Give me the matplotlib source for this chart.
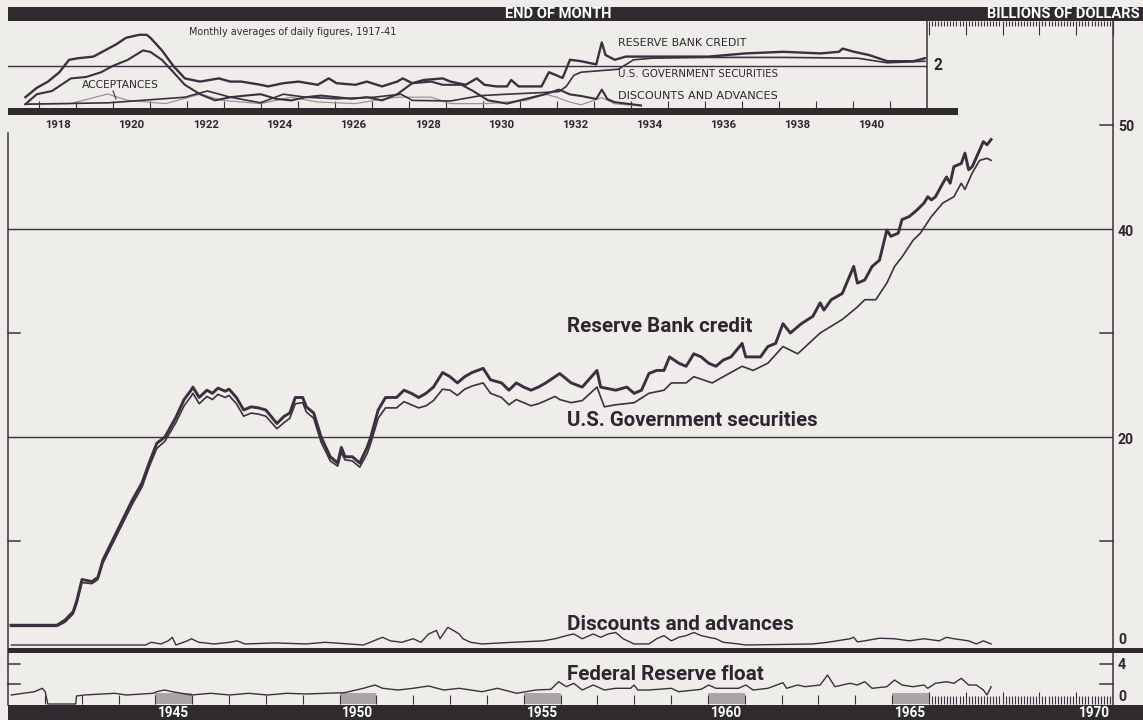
import matplotlib
matplotlib.use("Agg")
import matplotlib.pyplot as plt
from matplotlib import font_manager
from matplotlib.lines import Line2D
from matplotlib.patches import Rectangle
from matplotlib.transforms import blended_transform_factory

# ---- data (billions of dollars) ----
# main chart, end of month 1941-67
rbc_years = [1941.08, 1942.33, 1942.55, 1942.77, 1942.87, 1943.01, 1943.28, 1943.44, 1943.58,
             1944.37, 1944.64, 1944.83, 1945.04, 1945.26, 1945.56, 1945.78, 1945.97, 1946.02,
             1946.19, 1946.4, 1946.55, 1946.7, 1946.9, 1947.0, 1947.2, 1947.4, 1947.6, 1947.8,
             1948.0, 1948.3, 1948.5, 1948.65, 1948.8, 1949.0, 1949.1, 1949.3, 1949.5, 1949.75,
             1949.95, 1950.05, 1950.15, 1950.35, 1950.55, 1950.75, 1950.85, 1951.05, 1951.25,
             1951.55, 1951.75, 1951.95, 1952.15, 1952.35, 1952.55, 1952.8, 1953.0, 1953.2, 1953.4,
             1953.6, 1953.9, 1954.1, 1954.4, 1954.6, 1954.8, 1955.0, 1955.2, 1955.4, 1955.6, 1955.85,
             1955.98, 1956.29, 1956.59, 1956.99, 1957.09, 1957.5, 1957.8, 1958.0, 1958.2, 1958.4,
             1958.61, 1958.81, 1958.96, 1959.21, 1959.41, 1959.62, 1959.82, 1960.02, 1960.22,
             1960.42, 1960.63, 1960.93, 1961.03, 1961.43, 1961.63, 1961.84, 1962.04, 1962.24,
             1962.54, 1962.85, 1963.05, 1963.15, 1963.35, 1963.65, 1963.96, 1964.06, 1964.26,
             1964.46, 1964.66, 1964.86, 1964.97, 1965.17, 1965.27, 1965.47, 1965.67, 1965.87,
             1965.97, 1966.07, 1966.18, 1966.38, 1966.48, 1966.58, 1966.68, 1966.88, 1966.98,
             1967.08, 1967.18, 1967.38, 1967.48, 1967.58, 1967.69]
rbc_vals = [1.9, 1.9, 2.4, 3.2, 4.3, 6.3, 6.1, 6.5, 8.2,
            13.9, 15.6, 17.5, 19.4, 20.0, 21.9, 23.6, 24.5, 24.8,
            23.8, 24.5, 24.2, 24.7, 24.4, 24.6, 23.8, 22.6, 22.9, 22.8,
            22.6, 21.3, 22.0, 22.3, 23.8, 23.8, 22.9, 22.3, 20.0, 18.1,
            17.5, 19.0, 18.1, 18.1, 17.5, 19.0, 20.0, 22.6, 23.8,
            23.8, 24.5, 24.2, 23.8, 24.2, 24.8, 26.2, 25.8, 25.2, 25.8,
            26.2, 26.6, 25.5, 25.2, 24.5, 25.2, 24.8, 24.5, 24.8, 25.2, 25.8,
            26.1, 25.2, 24.8, 26.4, 24.8, 24.5, 24.8, 24.2, 24.5, 26.1,
            26.4, 26.4, 27.7, 27.1, 26.8, 28.0, 27.7, 27.1, 26.8,
            27.4, 27.7, 29.0, 27.7, 27.7, 28.7, 29.0, 30.9, 30.0,
            30.9, 31.6, 32.9, 32.2, 33.2, 33.8, 36.4, 34.8, 35.1,
            36.4, 37.0, 39.9, 39.3, 39.6, 40.9, 41.2, 41.8, 42.5,
            43.1, 42.8, 43.1, 44.4, 45.0, 44.4, 46.0, 46.3, 47.3,
            45.7, 46.0, 47.6, 48.4, 48.1, 48.6]

gov_years = [1941.08, 1942.33, 1942.55, 1942.77, 1942.87, 1943.01, 1943.28, 1943.44, 1943.58,
             1944.37, 1944.64, 1944.83, 1945.04, 1945.26, 1945.56, 1945.78, 1945.97, 1946.02,
             1946.19, 1946.4, 1946.55, 1946.7, 1946.9, 1947.0, 1947.2, 1947.4, 1947.6, 1947.8,
             1948.0, 1948.3, 1948.5, 1948.65, 1948.8, 1949.0, 1949.1, 1949.3, 1949.5, 1949.75,
             1949.95, 1950.05, 1950.15, 1950.35, 1950.55, 1950.75, 1950.85, 1951.05, 1951.25,
             1951.55, 1951.75, 1951.95, 1952.15, 1952.35, 1952.55, 1952.8, 1953.0, 1953.2, 1953.4,
             1953.6, 1953.9, 1954.1, 1954.4, 1954.6, 1954.8, 1955.0, 1955.2, 1955.4, 1955.6, 1955.85,
             1955.98, 1956.29, 1956.59, 1956.99, 1957.19, 1957.5, 1958.0, 1958.4, 1958.81, 1959.01,
             1959.41, 1959.62, 1960.12, 1960.42, 1960.93, 1961.23, 1961.63, 1962.04, 1962.44,
             1963.05, 1963.65, 1964.06, 1964.26, 1964.56, 1964.86, 1965.07, 1965.27, 1965.57,
             1965.77, 1966.07, 1966.38, 1966.68, 1966.88, 1966.98, 1967.18, 1967.38, 1967.58, 1967.69]
gov_vals = [1.8, 1.8, 2.2, 3.0, 4.0, 6.0, 5.9, 6.3, 7.9,
            13.5, 15.2, 17.1, 18.9, 19.6, 21.4, 23.0, 23.9, 24.2,
            23.2, 23.9, 23.6, 24.1, 23.8, 24.0, 23.2, 22.0, 22.3, 22.2,
            22.0, 20.8, 21.4, 21.8, 23.2, 23.3, 22.4, 21.8, 19.5, 17.7,
            17.2, 18.5, 17.8, 17.7, 17.1, 18.4, 19.4, 21.8, 22.8,
            22.8, 23.4, 23.1, 22.8, 23.0, 23.5, 24.6, 24.5, 24.0, 24.6,
            24.9, 25.2, 24.2, 23.8, 23.1, 23.6, 23.3, 23.0, 23.2, 23.5, 23.9,
            23.6, 23.3, 23.5, 24.8, 22.9, 23.1, 23.3, 24.2, 24.5, 25.2,
            25.2, 25.8, 25.2, 25.8, 26.8, 26.4, 27.1, 28.7, 28.0,
            30.0, 31.3, 32.5, 33.2, 33.2, 34.8, 36.4, 37.3, 38.9,
            39.6, 41.2, 42.5, 43.1, 44.4, 43.8, 45.4, 46.6, 46.8, 46.6]

disc_years = [1941.09, 1944.31, 1944.52, 1944.73, 1944.89, 1945.15, 1945.35, 1945.46, 1945.56,
              1945.87, 1945.98, 1946.18, 1946.6, 1947.02, 1947.22, 1947.43, 1948.26, 1949.09,
              1949.61, 1950.65, 1951.07, 1951.17, 1951.38, 1951.69, 1952.0, 1952.21, 1952.42,
              1952.63, 1952.73, 1952.94, 1953.09, 1953.25, 1953.35, 1953.56, 1953.87, 1954.7,
              1955.53, 1955.85, 1956.16, 1956.36, 1956.59, 1956.89, 1957.09, 1957.29, 1957.5,
              1957.7, 1958.0, 1958.4, 1958.61, 1958.81, 1959.01, 1959.21, 1959.41, 1959.62,
              1959.82, 1960.02, 1960.22, 1960.42, 1960.83, 1961.03, 1962.85, 1963.25, 1963.86,
              1963.96, 1964.06, 1964.26, 1964.66, 1965.07, 1965.47, 1965.87, 1966.28, 1966.48,
              1966.68, 1967.08, 1967.29, 1967.48, 1967.69]
disc_vals = [0.0, 0.0, 0.0, 0.0, 0.26, 0.1, 0.4, 0.74, 0.0,
             0.4, 0.6, 0.26, 0.1, 0.26, 0.4, 0.1, 0.2, 0.1,
             0.26, 0.0, 0.6, 0.74, 0.4, 0.26, 0.6, 0.26, 1.06,
             1.4, 0.6, 1.7, 1.4, 1.06, 0.6, 0.26, 0.1, 0.26,
             0.4, 0.6, 0.9, 1.06, 0.6, 1.06, 0.74, 1.06, 1.2,
             0.6, 0.1, 0.1, 0.6, 0.9, 0.4, 0.74, 0.9, 1.2,
             0.9, 0.74, 0.6, 0.26, 0.1, 0.0, 0.1, 0.26, 0.6,
             0.74, 0.3, 0.4, 0.65, 0.6, 0.4, 0.6, 0.4, 0.74,
             0.6, 0.4, 0.1, 0.4, 0.1]

float_years = [1941.09, 1941.41, 1941.72, 1941.93, 1942.01, 1942.08, 1942.84, 1942.86, 1943.07,
               1943.9, 1944.21, 1944.94, 1945.04, 1945.25, 1945.46, 1945.98, 1946.5, 1947.02,
               1947.53, 1948.05, 1948.57, 1949.09, 1949.61, 1950.13, 1950.65, 1950.96, 1951.17,
               1951.59, 1952.0, 1952.42, 1952.83, 1953.25, 1953.87, 1954.29, 1954.81, 1955.33,
               1955.74, 1955.95, 1956.16, 1956.36, 1956.59, 1956.89, 1957.19, 1957.5, 1957.9,
               1958.0, 1958.1, 1958.4, 1959.01, 1959.21, 1959.82, 1960.02, 1960.22, 1960.83,
               1961.03, 1961.23, 1961.63, 1962.04, 1962.14, 1962.44, 1962.64, 1963.05, 1963.25,
               1963.45, 1963.86, 1964.06, 1964.26, 1964.46, 1964.86, 1965.07, 1965.27, 1965.57,
               1965.87, 1965.97, 1966.18, 1966.48, 1966.68, 1966.88, 1967.08, 1967.29, 1967.48,
               1967.58, 1967.69]
float_vals = [0.9, 1.07, 1.23, 1.57, 1.23, 0.0, 0.0, 0.8, 0.9,
              1.07, 0.9, 1.07, 1.23, 1.4, 1.23, 0.9, 1.07, 0.9,
              1.07, 0.9, 1.07, 1.0, 1.07, 1.13, 1.57, 1.9, 1.57,
              1.4, 1.57, 1.8, 1.4, 1.57, 1.23, 1.57, 1.07, 1.4,
              1.47, 2.23, 1.73, 2.07, 1.4, 1.9, 1.4, 1.57, 1.57,
              1.9, 1.4, 1.4, 1.57, 1.23, 1.47, 1.9, 1.57, 1.57,
              1.9, 1.4, 1.57, 2.13, 1.57, 1.9, 1.73, 1.9, 2.9,
              1.73, 2.07, 1.9, 2.23, 1.57, 1.73, 2.4, 1.9, 1.73,
              1.9, 1.57, 2.07, 2.23, 2.07, 2.57, 1.9, 1.9, 1.4,
              0.9, 1.73]

# inset, monthly averages of daily figures 1917-41
in_rbc_years = [1917.63, 1917.94, 1918.24, 1918.55, 1918.81, 1919.06, 1919.47, 1919.78, 1920.09,
                1920.35, 1920.71, 1920.91, 1921.01, 1921.32, 1921.63, 1921.94, 1922.35, 1922.86,
                1923.17, 1923.47, 1923.99, 1924.19, 1924.6, 1925.01, 1925.53, 1925.83, 1926.04,
                1926.55, 1926.86, 1927.27, 1927.68, 1927.83, 1928.09, 1928.4, 1928.91, 1929.12,
                1929.53, 1929.83, 1930.04, 1930.35, 1930.65, 1930.76, 1930.96, 1931.58, 1931.78,
                1931.99, 1932.15, 1932.35, 1932.65, 1932.85, 1933.06, 1933.21, 1933.31, 1933.56,
                1933.86, 1934.57, 1936.09, 1937.1, 1938.11, 1939.12, 1939.62, 1939.72, 1940.03,
                1940.43, 1940.93, 1941.64, 1941.94]
in_rbc_vals = [0.44, 0.91, 1.22, 1.69, 2.31, 2.39, 2.47, 2.78, 3.09,
               3.41, 3.56, 3.56, 3.41, 2.78, 2.0, 1.38, 1.22, 1.38,
               1.22, 1.22, 1.06, 0.98, 1.14, 1.22, 1.06, 1.38, 1.14,
               1.06, 1.22, 0.98, 1.22, 1.38, 1.14, 1.3, 1.38, 1.22,
               1.06, 1.38, 1.06, 0.98, 0.98, 1.3, 0.98, 0.98, 1.69,
               1.53, 1.4, 2.31, 2.24, 2.16, 2.08, 3.18, 2.55, 2.31,
               2.47, 2.47, 2.47, 2.63, 2.71, 2.63, 2.71, 2.87, 2.71,
               2.55, 2.24, 2.24, 2.39]
in_gov_years = [1917.63, 1919.88, 1921.94, 1922.55, 1923.17, 1923.99, 1924.6, 1925.21, 1926.04,
                1927.06, 1927.78, 1928.09, 1929.12, 1929.94, 1930.65, 1931.58, 1932.05, 1932.25,
                1932.45, 1932.65, 1933.66, 1934.07, 1934.57, 1936.09, 1938.11, 1940.13, 1940.93,
                1941.94]
in_gov_vals = [0.09, 0.16, 0.44, 0.75, 0.44, 0.16, 0.59, 0.44, 0.36,
               0.44, 0.59, 0.28, 0.25, 0.52, 0.59, 0.67, 0.72, 0.98,
               1.53, 1.69, 1.84, 2.31, 2.39, 2.43, 2.43, 2.39, 2.16,
               2.24]
in_disc_years = [1917.63, 1917.94, 1918.35, 1918.86, 1919.27, 1919.68, 1919.99, 1920.4, 1920.81,
                 1921.01, 1921.32, 1921.63, 1921.94, 1922.35, 1922.76, 1923.17, 1923.58, 1923.99,
                 1924.4, 1924.81, 1925.21, 1925.62, 1926.04, 1926.45, 1926.86, 1927.27, 1927.68,
                 1928.09, 1928.6, 1928.91, 1929.42, 1929.73, 1930.14, 1930.65, 1931.17, 1931.68,
                 1932.05, 1932.35, 1932.65, 1933.06, 1933.21, 1933.36, 1933.56, 1934.27]
in_disc_vals = [0.09, 0.59, 0.75, 1.38, 1.45, 1.69, 2.0, 2.31, 2.78,
                2.7, 2.31, 1.69, 1.06, 0.59, 0.28, 0.44, 0.52, 0.59,
                0.36, 0.28, 0.44, 0.52, 0.44, 0.36, 0.44, 0.28, 0.59,
                1.14, 1.22, 1.06, 1.06, 0.75, 0.28, 0.12, 0.36, 0.59,
                0.82, 0.58, 0.5, 0.35, 0.82, 0.35, 0.19, 0.03]
in_acc_years = [1917.63, 1918.86, 1919.85, 1920.4, 1921.42, 1922.35, 1922.96, 1923.99, 1924.81,
                1925.53, 1926.55, 1927.06, 1927.68, 1928.6, 1929.12, 1930.14, 1931.17, 1931.68,
                1931.99, 1932.35, 1932.65, 1933.21, 1933.56, 1934.27]
in_acc_vals = [0.09, 0.12, 0.6, 0.28, 0.12, 0.59, 0.28, 0.12, 0.44,
               0.2, 0.12, 0.28, 0.44, 0.44, 0.12, 0.12, 0.28, 0.59,
               0.44, 0.19, 0.06, 0.42, 0.11, 0.0]

main_year_labels = [1945, 1950, 1955, 1960, 1965, 1970]
shaded_years = [1945, 1950, 1955, 1960, 1965]
inset_year_labels = [1918, 1920, 1922, 1924, 1926, 1928, 1930, 1932, 1934, 1936, 1938, 1940]

# ---- look ----
BG = "#eeede9"
INK = "#3a3040"
TEXT = "#2d2630"
BAND = "#2e2a2e"
GRAY = "#aaa6a8"
W, H = 1143, 720

# narrow bold face for the labels, whatever is there
_names = {f.name for f in font_manager.fontManager.ttflist}
NARROW = next((n for n in ["Liberation Sans Narrow", "Roboto", "DejaVu Sans"] if n in _names), "DejaVu Sans")


def fx(px):
    return px / W


def fy(py):
    return 1 - py / H


fig = plt.figure(figsize=(W / 100, H / 100), dpi=100, facecolor=BG)
renderer = fig.canvas.get_renderer()


def fig_line(x0, y0, x1, y1, lw=1.1, z=3):
    fig.add_artist(Line2D([fx(x0), fx(x1)], [fy(y0), fy(y1)], lw=lw, color=INK, zorder=z))


def fig_rect(x0, y0, x1, y1, color=BAND, z=5):
    fig.add_artist(Rectangle((fx(x0), fy(y1)), (x1 - x0) / W, (y1 - y0) / H,
                             facecolor=color, edgecolor="none", zorder=z))


def put(x, y, s, width, transform=None, color=TEXT, bold=True, narrow=True, ha="left"):
    """text fitted to a width in pixels"""
    t = fig.text(x, y, s, ha=ha, va="center", color=color, zorder=6,
                 transform=transform if transform is not None else fig.transFigure,
                 family=NARROW if narrow else "DejaVu Sans",
                 fontweight="bold" if bold else "normal",
                 fontstretch="condensed" if narrow else "normal", fontsize=10)
    w = t.get_window_extent(renderer).width
    t.set_fontsize(10 * width / w)
    return t


# main chart: 0 at y=645px, 10.4 px per billion
ax = fig.add_axes([fx(8), fy(705), (1113 - 8) / W, (705 - 21) / H], zorder=1)
ax.set_xlim(1941, 1971)
ax.set_ylim((645 - 705) / 10.4, (645 - 21) / 10.4)
ax.axis("off")
ax.axhline(20, color=INK, lw=1.0)
ax.axhline(40, color=INK, lw=1.0)
ax.plot(gov_years, gov_vals, color=INK, lw=1.2, zorder=3)
ax.plot(rbc_years, rbc_vals, color=INK, lw=2.1, zorder=4)
ax.plot(disc_years, disc_vals, color=INK, lw=1.0, zorder=3)

# float panel: own scale, 0 at y=704px
fl = fig.add_axes([fx(8), fy(705), (1113 - 8) / W, (705 - 653) / H], zorder=1)
fl.set_xlim(1941, 1971)
fl.set_ylim(-0.1, 5.1)
fl.axis("off")
for yr in shaded_years:
    fl.add_patch(Rectangle((yr, 0), 1, 1.1, facecolor=GRAY, edgecolor="none", zorder=1))
fl.vlines(range(1942, 1966), 0, 0.9, color=INK, lw=0.8, zorder=2)
months = [1966 + m / 12 for m in range(61)]
fl.vlines(months, 0, [1.2 if m % 12 == 0 else 0.8 for m in range(61)], color=INK, lw=0.8)
fl.plot(float_years, float_vals, color=INK, lw=1.0, zorder=3)

# inset 1917-41: 0 at y=106px, 20 px per billion
ins = fig.add_axes([fx(8), fy(108), (927 - 8) / W, (108 - 21) / H], zorder=2)
ins.set_xlim(1917.16, 1942.0)
ins.set_ylim(-0.1, 4.25)
ins.axis("off")
ins.axhline(2, color=INK, lw=1.0)
ins.vlines(range(1918, 1942), -0.1, 0.25, color=INK, lw=0.8)
ins.plot(in_acc_years, in_acc_vals, color="#9b939a", lw=0.9)
ins.plot(in_gov_years, in_gov_vals, color=INK, lw=1.2)
ins.plot(in_disc_years, in_disc_vals, color=INK, lw=1.5)
ins.plot(in_rbc_years, in_rbc_vals, color=INK, lw=1.7)

# frame: bands, axis lines, ticks
fig_rect(8, 7, 1143, 21)       # top band
fig_rect(8, 108, 958, 115)     # inset base
fig_rect(8, 648, 1143, 653)    # between discounts and float
fig_rect(8, 705, 1143, 720)    # bottom band
fig_line(1113, 21, 1113, 705)
fig_line(8, 133, 8, 705)
fig_line(927, 21, 927, 108)
for py in (125, 333, 541):
    fig_line(1100, py, 1113, py)
for py in (333, 541, 664, 684):
    fig_line(8, py, 20, py)
for py in (664, 684):
    fig_line(1100, py, 1113, py)

top_px = blended_transform_factory(ax.transData, fig.transFigure)
ax.vlines(months[:-1] + [1971], fy(21), [fy(35) if m % 12 == 0 else fy(26) for m in range(61)],
          transform=top_px, color=INK, lw=0.8, clip_on=False)

# text
put(fx(505), fy(14), "END OF MONTH", 107, color="white")
put(fx(1140), fy(14), "BILLIONS OF DOLLARS", 153, color="white", ha="right")
for yr in main_year_labels:
    put(yr + 0.5, fy(713), str(yr), 31, transform=top_px, color="white", ha="center")
ins_px = blended_transform_factory(ins.transData, fig.transFigure)
for yr in inset_year_labels:
    put(yr + 0.5, fy(125), str(yr), 26, transform=ins_px, ha="center")

for s, py in (("50", 127), ("40", 232), ("20", 440), ("0", 640), ("4", 665), ("0", 697)):
    put(fx(1118), fy(py), s, 16 if len(s) == 2 else 8)
put(fx(933), fy(65), "2", 9)

put(fx(567), fy(327), "Reserve Bank credit", 186)
put(fx(567), fy(421), "U.S. Government securities", 251)
put(fx(567), fy(625), "Discounts and advances", 227)
put(fx(567), fy(675), "Federal Reserve float", 197)

put(fx(189), fy(32), "Monthly averages of daily figures, 1917-41", 207, bold=False, narrow=False)
put(fx(82), fy(85), "ACCEPTANCES", 77, bold=False, narrow=False)
put(fx(618), fy(43), "RESERVE BANK CREDIT", 128, bold=False, narrow=False)
put(fx(618), fy(74), "U.S. GOVERNMENT SECURITIES", 161, bold=False, narrow=False)
put(fx(618), fy(96), "DISCOUNTS AND ADVANCES", 159, bold=False, narrow=False)
fig_line(113, 91, 116, 99, lw=0.8)

fig.savefig("out.png", dpi=100, facecolor=BG)
